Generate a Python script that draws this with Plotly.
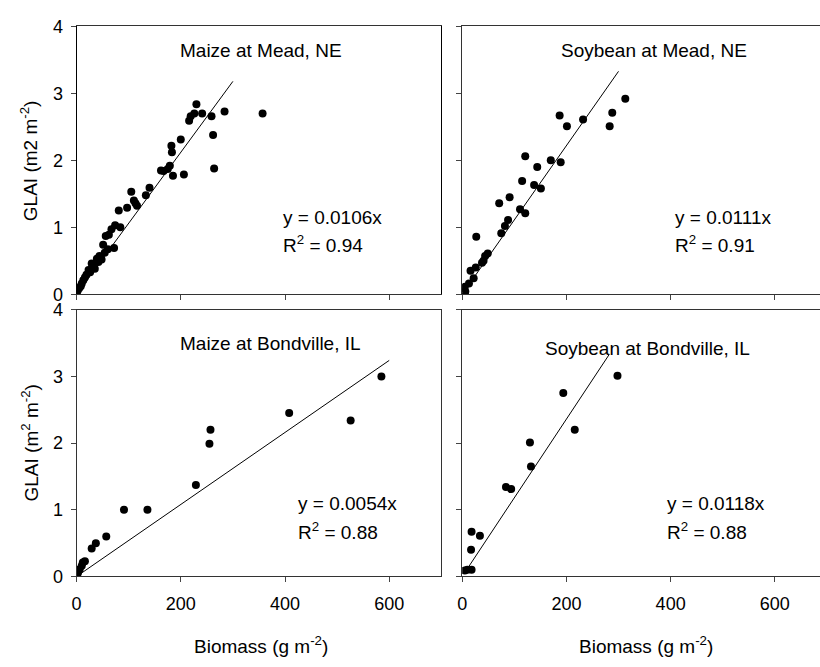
import plotly.graph_objects as go

# ---------------- data ----------------
maize_mead_x = [357, 230, 284, 259, 241, 226, 219, 216, 262, 264, 200, 182, 183, 179, 175,
                185, 206, 162, 167, 140, 133, 105, 110, 116, 113, 97, 81, 84, 74, 67, 62,
                56, 72, 60, 51, 54, 44, 48, 39, 35, 29, 23, 19, 13, 10, 5, 0, 2, 8, 16,
                26, 31, 42]
maize_mead_y = [2.70, 2.84, 2.73, 2.66, 2.70, 2.70, 2.66, 2.59, 2.38, 1.88, 2.31, 2.22, 2.12,
                1.92, 1.87, 1.77, 1.79, 1.85, 1.84, 1.59, 1.48, 1.53, 1.40, 1.32, 1.36, 1.29,
                1.25, 1.00, 1.03, 0.97, 0.89, 0.87, 0.69, 0.67, 0.74, 0.62, 0.57, 0.52, 0.53,
                0.38, 0.46, 0.36, 0.29, 0.21, 0.16, 0.09, 0.02, 0.05, 0.12, 0.25, 0.33, 0.42,
                0.48]

soy_mead_x = [313, 288, 283, 232, 187, 201, 189, 170, 121, 144, 138, 151, 115, 91, 71, 111,
              121, 88, 82, 75, 27, 49, 44, 41, 38, 26, 16, 22, 13, 5, 1, 6]
soy_mead_y = [2.92, 2.71, 2.51, 2.61, 2.67, 2.51, 1.97, 2.00, 2.06, 1.90, 1.63, 1.58, 1.69,
              1.45, 1.36, 1.27, 1.21, 1.11, 1.02, 0.91, 0.86, 0.61, 0.57, 0.50, 0.47, 0.40,
              0.35, 0.24, 0.16, 0.11, 0.09, 0.04]

maize_bond_x = [585, 526, 408, 257, 255, 229, 136, 91, 57, 37, 29, 16, 12, 10, 6, 3, 1]
maize_bond_y = [3.00, 2.34, 2.45, 2.20, 1.99, 1.37, 1.00, 1.00, 0.60, 0.50, 0.42, 0.23, 0.21,
                0.16, 0.11, 0.06, 0.02]

soy_bond_x = [298, 194, 216, 130, 132, 84, 94, 18, 34, 17, 18, 10, 5]
soy_bond_y = [3.01, 2.75, 2.20, 2.01, 1.65, 1.34, 1.31, 0.67, 0.61, 0.40, 0.10, 0.10, 0.09]

slopes = [0.0106, 0.0111, 0.0054, 0.0118]
fit_x = [[0, 300], [0, 300], [0, 600], [8, 282]]
r2 = ["0.94", "0.91", "0.88", "0.88"]
panel_titles = ["Maize at Mead, NE", "Soybean at Mead, NE",
                "Maize at Bondville, IL", "Soybean at Bondville, IL"]
title_x = [353, 368, 372, 356]
title_y = [3.64, 3.64, 3.49, 3.42]
eq_x = [392, 404, 421, 390]
eq_y1 = [1.14, 1.14, 1.10, 1.10]
eq_y2 = [0.75, 0.75, 0.68, 0.68]

x_ticks = [0, 200, 400, 600]
y_ticks = [0, 1, 2, 3, 4]

W, H = 820, 667
FONT = "Liberation Sans, Arial, sans-serif"

fig = go.Figure()

pts = [(maize_mead_x, maize_mead_y), (soy_mead_x, soy_mead_y),
       (maize_bond_x, maize_bond_y), (soy_bond_x, soy_bond_y)]
axes = [("x", "y"), ("x2", "y2"), ("x3", "y3"), ("x4", "y4")]

for i, ((px, py), (xa, ya)) in enumerate(zip(pts, axes)):
    fx = fit_x[i]
    fy = [slopes[i] * v for v in fx]
    fig.add_trace(go.Scatter(x=fx, y=fy, mode="lines", line=dict(color="black", width=1),
                             xaxis=xa, yaxis=ya, showlegend=False, hoverinfo="skip"))
    fig.add_trace(go.Scatter(x=px, y=py, mode="markers",
                             marker=dict(color="black", size=8, line=dict(width=0)),
                             xaxis=xa, yaxis=ya, showlegend=False))

# domains in pixels
left_dom = [72 / W, 439 / W]
right_dom = [460 / W, 1.0]
top_dom = [1 - 293 / H, 1 - 17 / H]
bot_dom = [1 - 584 / H, 1 - 309 / H]
right_range = [0, 700 * (W - 460) / (439 - 72)]

common_x = dict(tickmode="array", tickvals=x_ticks, ticks="outside", ticklen=5,
                tickcolor="#444", showline=True, linecolor="#333", linewidth=1,
                showgrid=False, zeroline=False, mirror=True,
                tickfont=dict(family=FONT, size=18, color="black"),
                ticklabelstandoff=6)
common_y = dict(tickmode="array", tickvals=y_ticks, ticks="outside", ticklen=5,
                tickcolor="#444", showline=True, linecolor="#333", linewidth=1,
                showgrid=False, zeroline=False, range=[0, 4],
                tickfont=dict(family=FONT, size=18, color="black"),
                ticklabelstandoff=4)

fig.update_layout(
    width=W, height=H, margin=dict(l=0, r=0, t=0, b=0),
    paper_bgcolor="white", plot_bgcolor="white",
    font=dict(family=FONT, color="black"),
    xaxis=dict(common_x, domain=left_dom, range=[0, 700], anchor="y", showticklabels=False),
    yaxis=dict(common_y, domain=top_dom, anchor="x", mirror=True, linecolor="black"),
    xaxis2=dict(common_x, domain=right_dom, range=right_range, anchor="y2", showticklabels=False),
    yaxis2=dict(common_y, domain=top_dom, anchor="x2", showticklabels=False, mirror=False),
    xaxis3=dict(common_x, domain=left_dom, range=[0, 700], anchor="y3"),
    yaxis3=dict(common_y, domain=bot_dom, anchor="x3", mirror=True),
    xaxis4=dict(common_x, domain=right_dom, range=right_range, anchor="y4"),
    yaxis4=dict(common_y, domain=bot_dom, anchor="x4", showticklabels=False, mirror=False),
)

annotations = []
for i, (xa, ya) in enumerate(axes):
    annotations.append(dict(x=title_x[i], y=title_y[i], xref=xa, yref=ya, text=panel_titles[i],
                            showarrow=False, font=dict(family=FONT, size=19, color="black"),
                            xanchor="center", yanchor="middle"))
    annotations.append(dict(x=eq_x[i], y=eq_y1[i], xref=xa, yref=ya,
                            text=f"y = {slopes[i]:.4f}x", showarrow=False,
                            font=dict(family=FONT, size=19, color="black"),
                            xanchor="left", yanchor="middle"))
    annotations.append(dict(x=eq_x[i], y=eq_y2[i], xref=xa, yref=ya,
                            text=f"R<sup>2</sup> = {r2[i]}", showarrow=False,
                            font=dict(family=FONT, size=19, color="black"),
                            xanchor="left", yanchor="middle"))

# axis titles
annotations.append(dict(x=25 / W, y=1 - 155 / H, xref="paper", yref="paper",
                        text="GLAI (m2 m<sup>-2</sup>)", textangle=-90, showarrow=False,
                        font=dict(family=FONT, size=19, color="black"),
                        xanchor="center", yanchor="middle"))
annotations.append(dict(x=25 / W, y=1 - 446 / H, xref="paper", yref="paper",
                        text="GLAI (m<sup>2</sup> m<sup>-2</sup>)", textangle=-90, showarrow=False,
                        font=dict(family=FONT, size=19, color="black"),
                        xanchor="center", yanchor="middle"))
annotations.append(dict(x=258 / W, y=1 - 655 / H, xref="paper", yref="paper",
                        text="Biomass (g m<sup>-2</sup>)", showarrow=False,
                        font=dict(family=FONT, size=19, color="black"),
                        xanchor="center", yanchor="middle"))
annotations.append(dict(x=645 / W, y=1 - 655 / H, xref="paper", yref="paper",
                        text="Biomass (g m<sup>-2</sup>)", showarrow=False,
                        font=dict(family=FONT, size=19, color="black"),
                        xanchor="center", yanchor="middle"))
fig.update_layout(annotations=annotations)

fig.write_html("out.html")
